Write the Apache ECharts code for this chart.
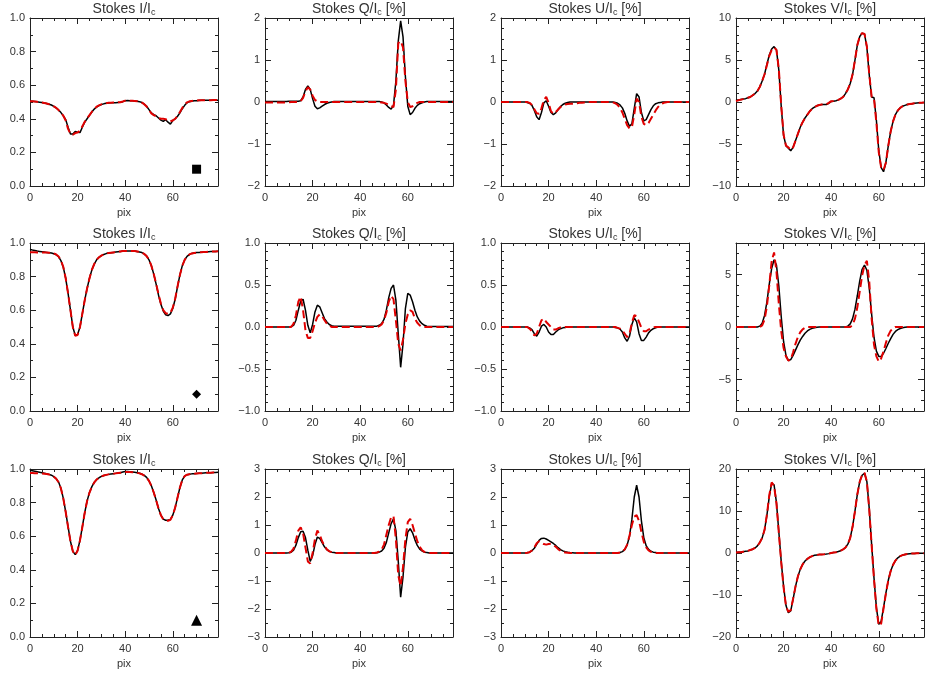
<!DOCTYPE html>
<html><head><meta charset="utf-8">
<script src="https://cdn.jsdelivr.net/npm/echarts@6/dist/echarts.min.js"></script>
<style>html,body{margin:0;padding:0;background:#fff}#c{width:943px;height:673px}</style>
</head><body><div id="c"></div>
<script>
// ---------- DATA ----------
const pix = [0,1,2,3,4,5,6,7,8,9,10,11,12,13,14,15,16,17,18,19,20,21,22,23,24,25,26,27,28,29,30,31,32,33,34,35,36,37,38,39,40,41,42,43,44,45,46,47,48,49,50,51,52,53,54,55,56,57,58,59,60,61,62,63,64,65,66,67,68,69,70,71,72,73,74,75,76,77,78,79];
const xMajorTicks = [0,20,40,60];
const xMinorTicks = [5,10,15,25,30,35,45,50,55,65,70,75];

// Row 1
const I1_obs = [.505,.504,.503,.501,.499,.497,.494,.491,.487,.482,.474,.465,.452,.437,.418,.395,.35,.31,.31,.325,.32,.318,.35,.38,.40,.42,.44,.458,.47,.479,.485,.489,.492,.494,.495,.496,.496,.497,.498,.502,.507,.509,.508,.507,.506,.505,.502,.497,.488,.475,.455,.435,.425,.418,.405,.392,.385,.395,.38,.368,.39,.40,.415,.435,.46,.48,.495,.502,.505,.507,.508,.509,.51,.51,.51,.511,.511,.511,.511,.511];
const I1_fit = [.505,.504,.503,.501,.499,.497,.494,.491,.487,.482,.474,.465,.452,.437,.418,.39,.34,.31,.305,.315,.318,.33,.355,.382,.402,.422,.442,.46,.472,.48,.486,.49,.493,.495,.496,.497,.497,.498,.499,.503,.508,.509,.508,.507,.506,.505,.502,.496,.487,.473,.452,.432,.422,.415,.405,.40,.40,.398,.39,.385,.39,.40,.418,.44,.465,.485,.498,.504,.506,.508,.509,.51,.51,.511,.511,.511,.511,.512,.512,.512];
const Q1_obs = [.01,.01,.01,.01,.01,.01,.01,.01,.01,.01,.02,.02,.02,.02,.02,.03,.12,.30,.38,.30,.08,-.10,-.16,-.14,-.10,-.06,-.03,-.01,0,.01,.01,.01,.01,.01,.01,.01,.01,.01,.01,.01,.01,.01,.01,.01,.01,.01,.01,.01,.01,0,-.02,-.07,-.13,-.17,-.08,.50,1.45,1.93,1.55,.60,-.10,-.30,-.25,-.15,-.08,-.04,-.02,0,.01,.01,.01,.01,.01,.01,.01,.01,.01,.01,.01,.01];
const Q1_fit = [-.01,-.01,-.01,-.01,-.01,-.01,-.01,-.01,-.01,-.01,-.01,0,0,0,.01,.02,.10,.25,.35,.30,.15,.05,.01,0,0,0,0,0,0,0,0,0,0,0,0,0,0,0,0,0,0,0,0,0,0,0,0,0,0,-.01,-.02,-.04,-.07,-.10,-.12,.30,1.40,1.45,1.30,.50,0,-.12,-.10,-.05,-.02,0,0,0,0,0,0,0,0,0,0,0,0,0,0,0];
const U1_obs = [0,0,0,0,0,0,0,0,0,0,0,-.01,-.03,-.08,-.20,-.35,-.42,-.25,-.02,.03,-.10,-.25,-.30,-.26,-.18,-.11,-.06,-.03,-.01,0,0,0,0,0,0,0,0,0,0,0,0,0,0,0,0,0,0,0,-.01,-.03,-.07,-.14,-.27,-.45,-.58,-.52,-.15,.20,.12,-.25,-.45,-.42,-.30,-.18,-.09,-.04,-.02,-.01,0,0,0,0,0,0,0,0,0,0,0,0];
const U1_fit = [0,0,0,0,0,0,0,0,0,0,0,0,-.02,-.07,-.17,-.27,-.28,-.15,.05,.12,-.02,-.22,-.28,-.24,-.18,-.12,-.08,-.06,-.05,-.04,-.04,-.03,-.03,-.02,-.02,-.01,0,0,0,0,0,0,0,0,0,0,0,-.01,-.03,-.07,-.14,-.25,-.40,-.55,-.63,-.60,-.30,.08,0,-.35,-.52,-.55,-.50,-.40,-.30,-.20,-.12,-.06,-.03,-.01,0,0,0,0,0,0,0,0,0,0];
const V1_obs = [.2,.25,.3,.35,.4,.5,.6,.8,1.0,1.3,1.8,2.5,3.3,4.5,5.6,6.3,6.6,6.2,3.8,-.5,-4.0,-5.2,-5.5,-5.8,-5.4,-4.6,-3.8,-3.0,-2.4,-1.9,-1.5,-1.1,-.8,-.6,-.45,-.35,-.3,-.3,-.3,-.15,.05,.1,.15,.25,.4,.6,1.0,1.5,2.2,3.3,5.0,6.8,7.8,8.2,8.1,6.5,3.2,.6,.5,-2.2,-5.8,-7.8,-8.3,-7.2,-5.2,-3.5,-2.3,-1.5,-1.0,-.7,-.5,-.4,-.3,-.25,-.2,-.15,-.12,-.1,-.08,-.05];
const V1_fit = [.1,.2,.28,.34,.4,.5,.6,.8,1.0,1.3,1.8,2.5,3.3,4.4,5.5,6.2,6.5,6.2,3.9,-.4,-3.9,-5.2,-5.4,-5.7,-5.4,-4.6,-3.8,-3.0,-2.4,-1.9,-1.5,-1.1,-.8,-.6,-.45,-.35,-.3,-.3,-.25,-.1,.1,.12,.15,.25,.4,.6,1.0,1.5,2.2,3.3,5.0,6.8,7.8,8.2,8.1,6.6,3.3,.6,.4,-2.5,-6.0,-7.8,-8.1,-7.2,-5.2,-3.5,-2.3,-1.5,-1.0,-.7,-.5,-.4,-.3,-.25,-.2,-.15,-.12,-.1,-.08,-.05];

// Row 2
const I2_obs = [.962,.958,.955,.952,.95,.948,.946,.944,.942,.94,.936,.93,.918,.895,.855,.79,.70,.60,.50,.45,.455,.50,.58,.66,.73,.79,.84,.875,.90,.915,.925,.932,.937,.94,.942,.944,.946,.948,.95,.952,.953,.953,.953,.953,.952,.95,.947,.943,.935,.922,.90,.865,.815,.755,.69,.635,.595,.573,.568,.578,.61,.665,.74,.81,.865,.90,.92,.932,.938,.941,.943,.944,.945,.946,.947,.948,.949,.95,.95,.951];
const I2_fit = [.945,.945,.945,.944,.944,.944,.943,.943,.942,.941,.938,.932,.92,.897,.857,.79,.70,.60,.50,.448,.452,.50,.58,.66,.73,.79,.84,.875,.90,.915,.925,.932,.937,.94,.942,.944,.946,.948,.95,.952,.953,.953,.953,.953,.952,.95,.947,.943,.935,.922,.90,.865,.815,.757,.695,.64,.60,.582,.578,.585,.615,.668,.742,.81,.865,.90,.92,.932,.938,.941,.943,.944,.945,.946,.947,.948,.949,.95,.95,.951];
const Q2_obs = [0,0,0,0,0,0,0,0,0,0,0,.005,.02,.08,.20,.31,.33,.20,.02,-.07,.03,.18,.26,.24,.17,.10,.06,.03,.015,.01,.01,.01,.01,.01,.01,.01,.01,.01,.01,.01,.01,.01,.01,.01,.01,.01,.01,.01,.02,.04,.09,.20,.35,.46,.50,.32,-.08,-.48,-.20,.22,.40,.38,.30,.20,.12,.07,.04,.02,.01,.005,.005,.005,.005,.005,.005,.005,.005,.005,.005,.005];
const Q2_fit = [0,0,0,0,0,0,0,0,0,0,0,0,.04,.14,.30,.36,.20,-.04,-.13,-.13,-.05,.05,.12,.15,.13,.08,.04,.02,0,0,0,0,0,0,0,0,0,0,0,0,0,0,0,0,0,0,0,0,.01,.03,.08,.17,.30,.37,.33,.08,-.20,-.28,-.15,.04,.15,.20,.18,.10,.05,.02,0,0,0,0,0,0,0,0,0,0,0,0,0,0];
const U2_obs = [0,0,0,0,0,0,0,0,0,0,0,0,-.01,-.03,-.08,-.11,-.06,.01,.03,0,-.06,-.09,-.09,-.06,-.035,-.02,-.01,-.005,0,0,0,0,0,0,0,0,0,0,0,0,0,0,0,0,0,0,0,0,-.005,-.01,-.025,-.06,-.13,-.17,-.11,.03,.11,.06,-.08,-.16,-.16,-.12,-.07,-.04,-.02,-.01,0,0,0,0,0,0,0,0,0,0,0,0,0,0];
const U2_fit = [0,0,0,0,0,0,0,0,0,0,0,0,-.02,-.05,-.10,-.08,0,.08,.10,.06,.03,0,-.03,-.03,-.015,-.005,0,0,0,0,0,0,0,0,0,0,0,0,0,0,0,0,0,0,0,0,0,0,0,-.01,-.02,-.04,-.08,-.12,-.08,.05,.14,.13,.06,-.01,-.05,-.05,-.03,-.015,-.005,0,0,0,0,0,0,0,0,0,0,0,0,0,0,0];
const V2_obs = [0,0,0,0,0,0,0,0,0,0,.08,.35,1.1,2.4,4.1,5.6,6.4,5.9,3.9,1.0,-1.4,-2.7,-3.2,-3.1,-2.7,-2.2,-1.7,-1.25,-.9,-.6,-.38,-.23,-.13,-.07,-.03,0,0,0,0,0,0,0,0,0,0,0,0,.08,.3,.8,1.7,3.0,4.4,5.5,5.9,5.4,3.7,1.2,-1.0,-2.3,-2.8,-2.8,-2.5,-2.05,-1.55,-1.1,-.7,-.42,-.25,-.14,-.07,-.03,0,0,0,0,0,0,0,0];
const V2_fit = [0,0,0,0,0,0,0,0,0,0,0,.15,.7,2.0,4.0,6.3,7.1,5.3,2.2,-.4,-2.0,-2.8,-3.2,-3.1,-2.4,-1.6,-.95,-.5,-.22,-.08,0,0,0,0,0,0,0,0,0,0,0,0,0,0,0,0,0,0,0,.2,.8,1.9,3.4,4.9,5.9,6.3,4.3,.8,-1.7,-2.8,-3.3,-3.0,-2.3,-1.5,-.8,-.35,-.12,0,0,0,0,0,0,0,0,0,0,0,0,0];

// Row 3
const I3_obs = [.993,.99,.987,.984,.981,.978,.975,.972,.968,.963,.955,.943,.922,.885,.825,.745,.655,.57,.51,.49,.515,.575,.655,.74,.81,.86,.895,.92,.937,.948,.956,.961,.965,.968,.97,.972,.974,.976,.978,.982,.985,.985,.984,.982,.98,.978,.975,.97,.962,.95,.93,.90,.86,.815,.765,.725,.702,.695,.695,.70,.725,.77,.83,.89,.935,.958,.966,.969,.971,.972,.973,.974,.975,.976,.977,.978,.978,.979,.979,.98];
const I3_fit = [.976,.976,.975,.975,.974,.973,.972,.97,.967,.962,.954,.942,.921,.884,.824,.744,.654,.57,.51,.488,.514,.575,.655,.74,.81,.86,.895,.92,.937,.948,.956,.961,.965,.968,.97,.972,.974,.976,.978,.98,.982,.982,.982,.981,.979,.977,.974,.969,.961,.949,.929,.90,.86,.815,.765,.725,.70,.692,.692,.698,.724,.77,.83,.89,.935,.958,.966,.969,.971,.972,.973,.974,.975,.976,.977,.978,.978,.979,.979,.98];
const Q3_obs = [0,0,0,0,0,0,0,0,0,0,.01,.03,.10,.28,.55,.76,.78,.55,.10,-.30,-.10,.30,.57,.52,.37,.22,.12,.06,.03,.015,0,0,0,0,0,0,0,0,0,0,0,0,0,0,0,0,0,.01,.03,.07,.17,.38,.72,1.05,1.22,.80,-.30,-1.58,-.85,.20,.75,.87,.72,.47,.27,.14,.07,.03,.015,0,0,0,0,0,0,0,0,0,0,0];
const Q3_fit = [0,0,0,0,0,0,0,0,0,0,0,.05,.16,.45,.80,.92,.70,.20,-.30,-.38,0,.50,.80,.65,.42,.25,.13,.06,.03,.01,0,0,0,0,0,0,0,0,0,0,0,0,0,0,0,0,0,.02,.05,.12,.30,.65,1.0,1.28,1.32,.50,-.80,-1.18,-.50,.50,1.10,1.22,1.0,.70,.42,.22,.10,.04,.02,0,0,0,0,0,0,0,0,0,0,0];
const U3_obs = [0,0,0,0,0,0,0,0,0,0,0,.01,.03,.08,.17,.31,.45,.52,.53,.50,.45,.40,.34,.27,.19,.12,.075,.045,.025,.015,.01,0,0,0,0,0,0,0,0,0,0,0,0,0,0,0,0,0,0,.01,.02,.05,.12,.28,.60,1.20,2.0,2.42,2.0,1.15,.55,.26,.13,.06,.03,.015,0,0,0,0,0,0,0,0,0,0,0,0,0,0];
const U3_fit = [0,0,0,0,0,0,0,0,0,0,0,.01,.03,.09,.20,.35,.42,.37,.32,.30,.32,.33,.29,.22,.14,.08,.04,.02,.01,0,0,0,0,0,0,0,0,0,0,0,0,0,0,0,0,0,0,0,0,0,.02,.05,.13,.30,.62,1.0,1.30,1.35,1.15,.75,.40,.20,.09,.04,.02,0,0,0,0,0,0,0,0,0,0,0,0,0,0,0];
const V3_obs = [.1,.15,.2,.3,.4,.5,.7,.9,1.2,1.7,2.5,3.6,5.5,9.0,13.5,16.6,16.2,12.0,5.0,-2.0,-8.0,-12.5,-14.2,-13.8,-11.0,-8.0,-5.6,-3.9,-2.7,-1.9,-1.4,-1.0,-.75,-.55,-.45,-.38,-.33,-.3,-.25,-.15,0,.1,.2,.35,.55,.85,1.3,2.1,3.6,6.3,10.0,14.0,17.0,18.5,19.0,17.0,10.5,2.0,-6.0,-13.0,-17.0,-16.3,-13.0,-9.5,-6.5,-4.3,-2.8,-1.8,-1.15,-.75,-.5,-.35,-.25,-.18,-.13,-.1,-.08,-.06,-.05,-.04];
const V3_fit = [.1,.15,.2,.3,.4,.5,.7,.9,1.2,1.7,2.5,3.6,5.5,9.2,13.8,16.8,16.0,11.8,4.8,-2.2,-8.2,-12.6,-14.0,-13.6,-10.9,-8.0,-5.6,-3.9,-2.7,-1.9,-1.4,-1.0,-.75,-.55,-.45,-.38,-.33,-.3,-.25,-.15,0,.1,.2,.35,.55,.85,1.3,2.1,3.6,6.3,10.0,14.0,17.0,18.6,19.1,17.0,10.3,1.8,-6.3,-13.3,-17.3,-16.8,-13.2,-9.6,-6.5,-4.3,-2.8,-1.8,-1.15,-.75,-.5,-.35,-.25,-.18,-.13,-.1,-.08,-.06,-.05,-.04];

// Axis ranges and tick labels
const yTicks_I = [0,0.2,0.4,0.6,0.8,1.0];
const yTicks_QU1 = [-2,-1,0,1,2];
const yTicks_V1 = [-10,-5,0,5,10];
const yTicks_QU2 = [-1,-0.5,0,0.5,1];
const yTicks_V2 = [-5,0,5];
const yTicks_QU3 = [-3,-2,-1,0,1,2,3];
const yTicks_V3 = [-20,-10,0,10,20];
const markerPos = [70, 0.1];
const markerShapes = ['rect','diamond','triangle'];

// ---------- LAYOUT ----------
const colLeft = [30, 265, 501, 736];
const rowTop = [18, 243, 469];
const W = 188, H = 168;
const axisColor = '#222';
const textColor = '#333';
const fontFam = 'Liberation Sans, Arial, sans-serif';

function between(ticks, n){
  const out=[];
  for(let i=0;i<ticks.length-1;i++){
    const a=ticks[i], b=ticks[i+1];
    for(let k=1;k<n;k++) out.push(+(a+(b-a)*k/n).toFixed(6));
  }
  return out;
}

const panels = [
  {obs:I1_obs, fit:I1_fit, t:['Stokes I/I','c',''], min:0, max:1, ticks:yTicks_I, dec:1, nm:2},
  {obs:Q1_obs, fit:Q1_fit, t:['Stokes Q/I','c',' [%]'], min:-2, max:2, ticks:yTicks_QU1, dec:0, nm:4},
  {obs:U1_obs, fit:U1_fit, t:['Stokes U/I','c',' [%]'], min:-2, max:2, ticks:yTicks_QU1, dec:0, nm:4},
  {obs:V1_obs, fit:V1_fit, t:['Stokes V/I','c',' [%]'], min:-10, max:10, ticks:yTicks_V1, dec:0, nm:5},
  {obs:I2_obs, fit:I2_fit, t:['Stokes I/I','c',''], min:0, max:1, ticks:yTicks_I, dec:1, nm:2},
  {obs:Q2_obs, fit:Q2_fit, t:['Stokes Q/I','c',' [%]'], min:-1, max:1, ticks:yTicks_QU2, dec:1, nm:5},
  {obs:U2_obs, fit:U2_fit, t:['Stokes U/I','c',' [%]'], min:-1, max:1, ticks:yTicks_QU2, dec:1, nm:5},
  {obs:V2_obs, fit:V2_fit, t:['Stokes V/I','c',' [%]'], min:-8, max:8, ticks:yTicks_V2, dec:0, nm:5},
  {obs:I3_obs, fit:I3_fit, t:['Stokes I/I','c',''], min:0, max:1, ticks:yTicks_I, dec:1, nm:2},
  {obs:Q3_obs, fit:Q3_fit, t:['Stokes Q/I','c',' [%]'], min:-3, max:3, ticks:yTicks_QU3, dec:0, nm:2},
  {obs:U3_obs, fit:U3_fit, t:['Stokes U/I','c',' [%]'], min:-3, max:3, ticks:yTicks_QU3, dec:0, nm:2},
  {obs:V3_obs, fit:V3_fit, t:['Stokes V/I','c',' [%]'], min:-20, max:20, ticks:yTicks_V3, dec:0, nm:5}
];

const grid=[], xAxis=[], yAxis=[], series=[], graphic=[];
const lblStyle = {color:textColor, fontFamily:fontFam, fontSize:11};
const fmt = dec => v => (dec? Number(v).toFixed(dec) : String(Math.round(v))).replace('-','\u2212');

panels.forEach((p, gi) => {
  const r = Math.floor(gi/4), c = gi%4;
  const left = colLeft[c], top = rowTop[r];
  grid.push({left:left, top:top, width:W, height:H, containLabel:false});
  let yMinor = between(p.ticks, p.nm);
  const step = (p.ticks[1]-p.ticks[0])/p.nm;
  for(let v=p.ticks[0]-step; v>p.min+1e-9; v-=step) yMinor.push(+v.toFixed(6));
  for(let v=p.ticks[p.ticks.length-1]+step; v<p.max-1e-9; v+=step) yMinor.push(+v.toFixed(6));

  const xb = {gridIndex:gi, type:'value', min:0, max:79, splitLine:{show:false}, axisLabel:{show:false}, axisTick:{show:false}, axisLine:{show:false, onZero:false}};
  const line = {show:true, onZero:false, lineStyle:{color:axisColor, width:1}};
  const majT = (vals)=>({show:true, inside:true, length:6, customValues:vals, lineStyle:{color:axisColor, width:1}});
  const minT = (vals)=>({show:true, inside:true, length:3, customValues:vals, lineStyle:{color:axisColor, width:1}});
  xAxis.push(Object.assign({}, xb, {position:'bottom', axisLine:line, axisTick:majT(xMajorTicks),
    axisLabel:{show:true, customValues:xMajorTicks, margin:6, ...lblStyle},
    name:'pix', nameLocation:'middle', nameGap:21, nameTextStyle:{...lblStyle}}));
  xAxis.push(Object.assign({}, xb, {position:'bottom', axisTick:minT(xMinorTicks)}));
  xAxis.push(Object.assign({}, xb, {position:'top', axisLine:line, axisTick:majT(xMajorTicks)}));
  xAxis.push(Object.assign({}, xb, {position:'top', axisTick:minT(xMinorTicks)}));

  const yb = {gridIndex:gi, type:'value', min:p.min, max:p.max, splitLine:{show:false}, axisLabel:{show:false}, axisTick:{show:false}, axisLine:{show:false, onZero:false}};
  yAxis.push(Object.assign({}, yb, {position:'left', axisLine:line, axisTick:majT(p.ticks),
    axisLabel:{show:true, customValues:p.ticks, margin:5, formatter:fmt(p.dec), ...lblStyle}}));
  yAxis.push(Object.assign({}, yb, {position:'left', axisTick:minT(yMinor)}));
  yAxis.push(Object.assign({}, yb, {position:'right', axisLine:line, axisTick:majT(p.ticks)}));
  yAxis.push(Object.assign({}, yb, {position:'right', axisTick:minT(yMinor)}));

  series.push({type:'line', xAxisIndex:gi*4, yAxisIndex:gi*4, data:pix.map((x,i)=>[x,p.obs[i]]),
    showSymbol:false, lineStyle:{color:'#000', width:1.5}, animation:false, z:3});
  series.push({type:'line', xAxisIndex:gi*4, yAxisIndex:gi*4, data:pix.map((x,i)=>[x,p.fit[i]]),
    showSymbol:false, lineStyle:{color:'#e00000', width:2, type:[8,4]}, animation:false, z:4});
  if (c===0) {
    series.push({type:'scatter', xAxisIndex:gi*4, yAxisIndex:gi*4, data:[markerPos],
      symbol:markerShapes[r], symbolSize: r===2?11:9, itemStyle:{color:'#000', opacity:1}, animation:false, z:5});
  }
  graphic.push({type:'text', x:left+W/2, y:top-9,
    style:{text:'{a|'+p.t[0]+'}{s|'+p.t[1]+'}{a|'+p.t[2]+'}', align:'center', verticalAlign:'middle',
      rich:{a:{fontSize:14, fontFamily:fontFam, fill:textColor, color:textColor},
            s:{fontSize:9, fontFamily:fontFam, fill:textColor, color:textColor, padding:[7,0,0,0]}}}});
});

const chart = echarts.init(document.getElementById('c'), null, {renderer:'canvas'});
chart.setOption({animation:false, backgroundColor:'#fff', grid, xAxis, yAxis, series, graphic});
</script></body></html>
